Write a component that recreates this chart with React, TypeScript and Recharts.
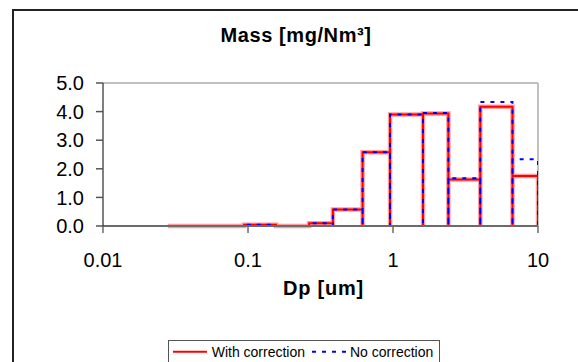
import React from "react";
import { LineChart, Line, XAxis, YAxis, ReferenceLine } from "recharts";

// Bin edges (Dp, um) and mass per bin (mg/Nm³)
const binEdges = [0.028, 0.056, 0.094, 0.156, 0.264, 0.385, 0.617, 0.954, 1.61, 2.41, 4.0, 6.67, 10.0];
const withCorrection = [0.0, 0.0, 0.04, 0.0, 0.1, 0.58, 2.58, 3.9, 3.93, 1.63, 4.17, 1.75];
const noCorrection = [0.0, 0.0, 0.04, 0.0, 0.1, 0.58, 2.58, 3.9, 3.95, 1.67, 4.34, 2.33];
const xTicks = [0.01, 0.1, 1, 10];
const yTicks = [0, 1, 2, 3, 4, 5];

const seriesNames = ["With correction", "No correction"];

const stepData: { x: number; w: number; n: number }[] = [];
for (let i = 0; i < withCorrection.length; i++) {
  stepData.push({ x: binEdges[i], w: 0, n: 0 });
  stepData.push({ x: binEdges[i], w: withCorrection[i], n: noCorrection[i] });
  stepData.push({ x: binEdges[i + 1], w: withCorrection[i], n: noCorrection[i] });
  stepData.push({ x: binEdges[i + 1], w: 0, n: 0 });
}

const FONT = "'Liberation Sans', Arial, sans-serif";

const LegendBox = () => (
  <svg width={272} height={24} style={{ display: "block", overflow: "visible" }}>
    <rect x={0.5} y={0.5} width={271} height={40} fill="#fff" stroke="#555" strokeWidth={1} />
    <line x1={5} y1={11.7} x2={39} y2={11.7} stroke="#ff0000" strokeWidth={2} />
    <text x={43.7} y={16.7} fontFamily={FONT} fontSize={14} fill="#000">{seriesNames[0]}</text>
    <line x1={144} y1={11.7} x2={178} y2={11.7} stroke="#0000ff" strokeWidth={2} strokeDasharray="4 6" />
    <text x={182} y={16.7} fontFamily={FONT} fontSize={14} fill="#000">{seriesNames[1]}</text>
  </svg>
);

export default function App() {
  return (
    <div style={{ position: "absolute", left: 0, top: 0, width: 578, height: 362, overflow: "hidden", background: "#fff", fontFamily: FONT }}>
      <div style={{ position: "absolute", left: 12, top: 9, width: 600, height: 400, border: "2px solid #222", boxSizing: "border-box" }} />
      <div style={{ position: "absolute", left: -4, top: 25.4, width: 600, textAlign: "center", fontWeight: "bold", fontSize: 20, lineHeight: "20px", letterSpacing: 0.6, color: "#000" }}>
        Mass [mg/Nm³]
      </div>
      <div style={{ position: "absolute", left: 223.5, top: 278, width: 200, textAlign: "center", fontWeight: "bold", fontSize: 20, lineHeight: "20px", letterSpacing: 0.8, color: "#000" }}>
        Dp [um]
      </div>
      <div style={{ position: "absolute", left: 0, top: 0 }}>
        <LineChart width={578} height={362} data={stepData} margin={{ top: 83, right: 40, bottom: 76, left: 0 }}>
          <XAxis
            dataKey="x"
            type="number"
            scale="log"
            domain={[0.01, 10]}
            ticks={xTicks}
            allowDataOverflow
            tickFormatter={(v: number) => String(v)}
            height={60}
            tickSize={7}
            tickMargin={20}
            axisLine={{ stroke: "#6b6b6b", strokeWidth: 2 }}
            tickLine={{ stroke: "#6b6b6b", strokeWidth: 1.5 }}
            tick={{ fill: "#000", fontSize: 20, fontFamily: FONT }}
            interval={0}
          />
          <YAxis
            type="number"
            domain={[0, 5]}
            ticks={yTicks}
            width={103}
            tickFormatter={(v: number) => v.toFixed(1)}
            tickSize={7}
            tickMargin={12}
            axisLine={{ stroke: "#000", strokeWidth: 1 }}
            tickLine={{ stroke: "#555", strokeWidth: 1.5 }}
            tick={{ fill: "#000", fontSize: 20, fontFamily: FONT }}
            interval={0}
          />
          <ReferenceLine y={5} stroke="#c0c0c0" strokeWidth={2} />
          <ReferenceLine x={10} stroke="#c0c0c0" strokeWidth={2} />
          <Line dataKey="w" type="linear" stroke="#ff9c9c" strokeWidth={4.5} dot={false} activeDot={false} legendType="none" isAnimationActive={false} />
          <Line dataKey="w" name={seriesNames[0]} type="linear" stroke="#ff0000" strokeWidth={2} dot={false} activeDot={false} isAnimationActive={false} />
          <Line dataKey="n" name={seriesNames[1]} type="linear" stroke="#0000ff" strokeWidth={2} strokeDasharray="4 6" dot={false} activeDot={false} isAnimationActive={false} />
        </LineChart>
      </div>
      <div style={{ position: "absolute", left: 168, top: 340 }}>
        <LegendBox />
      </div>
    </div>
  );
}
